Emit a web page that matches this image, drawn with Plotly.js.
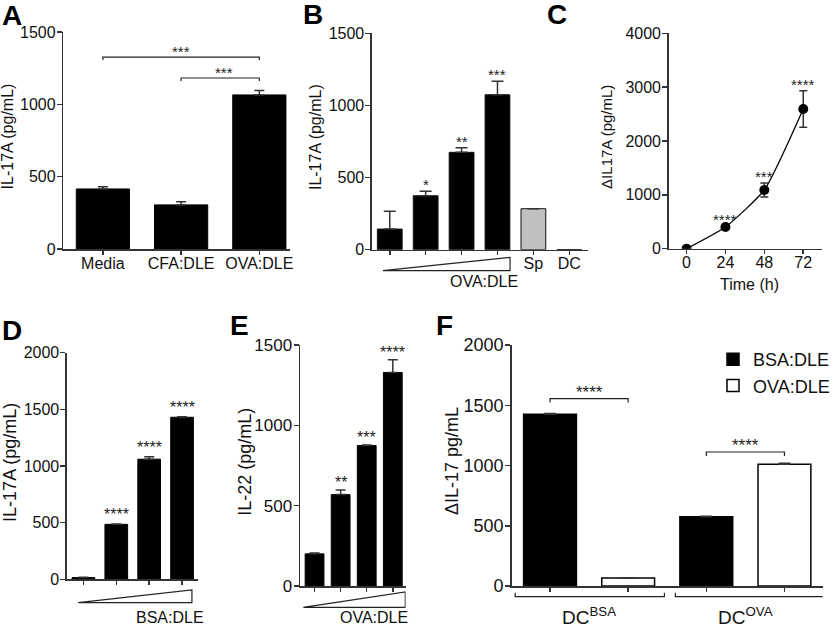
<!DOCTYPE html>
<html><head><meta charset="utf-8">
<script src="https://cdn.plot.ly/plotly-3.0.1.min.js"></script>
<style>html,body{margin:0;padding:0;background:#fff;} #chart{width:835px;height:628px;}</style>
</head><body><div id="chart"></div>
<script>
// ---------------- DATA ----------------
// Panel A
const catsA = ['Media', 'CFA:DLE', 'OVA:DLE'];
const valsA = [415, 305, 1065];
const errA  = [15, 22, 30];
const sigPairsA = [[0, 2], [1, 2]];
const sigHeightsA = [1327, 1182];
const sigTextA = ['***', '***'];
// Panel B
const catsB = ['OVA:DLE 1', 'OVA:DLE 2', 'OVA:DLE 3', 'OVA:DLE 4', 'Sp', 'DC'];
const labelledB = ['Sp', 'DC'];
const valsB = [143, 374, 675, 1074, 284, 0];
const errB  = [123, 31, 32, 93, null, null];
const sigB  = ['', '*', '**', '***', '', ''];
// Panel C
const timeC = [0, 24, 48, 72];
const valsC = [0, 403, 1090, 2595];
const errC  = [0, 20, 130, 340];
const sigC  = ['', '****', '***', '****'];
// Panel D
const catsD = ['BSA:DLE 1', 'BSA:DLE 2', 'BSA:DLE 3', 'BSA:DLE 4'];
const valsD = [15, 485, 1060, 1430];
const errD  = [3, 4, 22, 5];
const sigD  = ['', '****', '****', '****'];
// Panel E
const catsE = ['OVA:DLE 1', 'OVA:DLE 2', 'OVA:DLE 3', 'OVA:DLE 4'];
const valsE = [200, 569, 874, 1329];
const errE  = [5, 29, 4, 79];
const sigE  = ['', '**', '***', '****'];
// Panel F
const groupsF = ['DC<sup>BSA</sup>', 'DC<sup>OVA</sup>'];
const seriesF = ['BSA:DLE', 'OVA:DLE'];
const bsaF = [1425, 575];
const ovaF = [66, 1010];
const errBsaF = [6, 3];
const errOvaF = [3, 8];
const sigPairsF = [[0, 0], [1, 1]];
const sigHeightsF = [1555, 1112];
const sigTextF = ['****', '****'];

// ---------------- LAYOUT HELPERS ----------------
const W = 835, H = 628;
const FONT = 'Liberation Sans, Arial, Helvetica, sans-serif';
const px = x => x / W;
const py = y => 1 - y / H;
const AX = '#333';

const frame = {
  A: {l: 64, r: 293, t: 32, b: 249, xr: [-0.506, 2.39], yr: [0, 1500], dt: 500, fs: 16},
  B: {l: 376, r: 594, t: 33.3, b: 249.7, xr: [-0.496, 5.51], yr: [0, 1500], dt: 500, fs: 16},
  C: {l: 676, r: 831, t: 33.3, b: 248.7, xr: [-11, 83.6], yr: [0, 4000], dt: 1000, fs: 16},
  D: {l: 67.7, r: 200, t: 352.7, b: 579.3, xr: [-0.5, 3.48], yr: [0, 2000], dt: 500, fs: 16},
  E: {l: 303.3, r: 410, t: 345, b: 586, xr: [-0.557, 3.49], yr: [0, 1500], dt: 500, fs: 17},
  F: {l: 517.3, r: 831.7, t: 345, b: 586, xr: [-0.495, 1.495], yr: [0, 2000], dt: 500, fs: 18}
};
const keys = ['A', 'B', 'C', 'D', 'E', 'F'];
const unitPerPx = k => (frame[k].yr[1] - frame[k].yr[0]) / (frame[k].b - frame[k].t);

const layout = {
  width: W, height: H,
  margin: {l: 0, r: 0, t: 0, b: 0},
  paper_bgcolor: '#fff', plot_bgcolor: 'rgba(0,0,0,0)',
  font: {family: FONT, color: '#111', size: 16},
  barmode: 'overlay',
  showlegend: true,
  legend: {x: px(721), y: py(341), xanchor: 'left', yanchor: 'top',
           font: {size: 18, family: FONT, color: '#111'}, bgcolor: 'rgba(0,0,0,0)',
           tracegroupgap: 0, itemclick: false},
  shapes: [], annotations: []
};

keys.forEach((k, i) => {
  const f = frame[k];
  const sfx = i === 0 ? '' : String(i + 1);
  const common = {
    showgrid: false, zeroline: false, showline: true, linecolor: AX, linewidth: 1.5,
    ticks: 'outside', tickcolor: AX, tickwidth: 1.5, ticklen: 5, fixedrange: true,
    tickfont: {size: f.fs, family: FONT, color: '#111'}
  };
  layout['xaxis' + sfx] = Object.assign({}, common, {
    domain: [px(f.l), px(f.r)], range: f.xr, anchor: 'y' + sfx, ticklen: 4, ticklabelstandoff: -5
  });
  layout['yaxis' + sfx] = Object.assign({}, common, {
    domain: [py(f.b), py(f.t)], range: f.yr, anchor: 'x' + sfx, dtick: f.dt, tick0: 0,
    ticklabelstandoff: -2
  });
});

// x tick setup
const idx = arr => arr.map((_, i) => i);
Object.assign(layout.xaxis,  {tickmode: 'array', tickvals: idx(catsA), ticktext: catsA});
const labIdxB = labelledB.map(c => catsB.indexOf(c));
Object.assign(layout.xaxis2, {tickmode: 'array', tickvals: labIdxB, ticktext: labelledB,
  minor: {tickmode: 'array', tickvals: idx(catsB).filter(i => labIdxB.indexOf(i) < 0),
          ticks: 'outside', ticklen: 4, tickwidth: 1.5, tickcolor: AX, showgrid: false}});
Object.assign(layout.xaxis3, {tickmode: 'array', tickvals: timeC, ticktext: timeC.map(String)});
Object.assign(layout.xaxis4, {tickmode: 'array', tickvals: idx(catsD), showticklabels: false});
Object.assign(layout.xaxis5, {tickmode: 'array', tickvals: idx(catsE), showticklabels: false});
const xBsaF = groupsF.map((_, i) => i - 0.25);
const xOvaF = groupsF.map((_, i) => i + 0.25);
Object.assign(layout.xaxis6, {tickmode: 'array', tickvals: xBsaF.concat(xOvaF), showticklabels: false});

// ---------------- TRACES ----------------
const upErr = (arr, w) => ({type: 'data', symmetric: false, array: arr,
  arrayminus: arr.map(() => 0), color: '#333', thickness: 1.5, width: w, visible: true});

const traces = [];
traces.push({type: 'bar', name: 'A', x: idx(catsA), y: valsA, width: 0.68, xaxis: 'x', yaxis: 'y',
  marker: {color: '#000', line: {color: '#000', width: 1}}, error_y: upErr(errA, 5),
  showlegend: false, hoverinfo: 'skip'});
traces.push({type: 'bar', name: 'B', x: idx(catsB), y: valsB, width: 0.69, xaxis: 'x2', yaxis: 'y2',
  marker: {color: catsB.map(c => c === 'Sp' ? '#c0c0c0' : '#000'), line: {color: '#111', width: 1}},
  error_y: upErr(errB, 6), showlegend: false, hoverinfo: 'skip'});
traces.push({type: 'scatter', mode: 'lines+markers', name: 'C', x: timeC, y: valsC, xaxis: 'x3', yaxis: 'y3',
  line: {color: '#000', width: 1.3, shape: 'spline', smoothing: 0.5},
  marker: {color: '#000', size: 10},
  error_y: {type: 'data', array: errC, color: '#333', thickness: 1.5, width: 4},
  showlegend: false, hoverinfo: 'skip'});
traces.push({type: 'bar', name: 'D', x: idx(catsD), y: valsD, width: 0.69, xaxis: 'x4', yaxis: 'y4',
  marker: {color: '#000', line: {color: '#000', width: 1}}, error_y: upErr(errD, 5),
  showlegend: false, hoverinfo: 'skip'});
traces.push({type: 'bar', name: 'E', x: idx(catsE), y: valsE, width: 0.72, xaxis: 'x5', yaxis: 'y5',
  marker: {color: '#000', line: {color: '#000', width: 1}}, error_y: upErr(errE, 5),
  showlegend: false, hoverinfo: 'skip'});
traces.push({type: 'bar', name: seriesF[0], x: xBsaF, y: bsaF, width: 0.338, xaxis: 'x6', yaxis: 'y6',
  marker: {color: '#000', line: {color: '#000', width: 1.5}}, error_y: upErr(errBsaF, 6), hoverinfo: 'skip'});
traces.push({type: 'bar', name: seriesF[1], x: xOvaF, y: ovaF, width: 0.338, xaxis: 'x6', yaxis: 'y6',
  marker: {color: '#fff', line: {color: '#000', width: 1.5}}, error_y: upErr(errOvaF, 6), hoverinfo: 'skip'});

// ---------------- ANNOTATIONS & SHAPES ----------------
const ann = layout.annotations, shp = layout.shapes;
const lineSty = {color: '#222', width: 1.2};

function stars(xs, tops, labels, sfx, size, shift) {
  labels.forEach((s, i) => {
    if (!s) return;
    ann.push({xref: 'x' + sfx, yref: 'y' + sfx, x: xs[i], y: tops[i], text: s, showarrow: false,
      xanchor: 'center', yanchor: 'bottom', yshift: shift, font: {size: size, color: '#222'}});
  });
}
const tops = (v, e) => v.map((y, i) => y + (e[i] || 0));
stars(idx(catsB), tops(valsB, errB), sigB, '2', 15, -4);
stars(timeC, tops(valsC, errC), sigC, '3', 15, -4);
stars(idx(catsD), tops(valsD, errD), sigD, '4', 16, -1);
stars(idx(catsE), tops(valsE, errE), sigE, '5', 16, -3);

// significance brackets
function bracket(sfx, k, x0, x1, h, label, tickPx, size, labelX) {
  const d = tickPx * unitPerPx(k);
  shp.push({type: 'path', xref: 'x' + sfx, yref: 'y' + sfx,
    path: `M${x0},${h - d} L${x0},${h} L${x1},${h} L${x1},${h - d}`, line: lineSty});
  ann.push({xref: 'x' + sfx, yref: 'y' + sfx, x: labelX, y: h, text: label, showarrow: false,
    xanchor: 'center', yanchor: 'bottom', yshift: -5, font: {size: size, color: '#222'}});
}
sigPairsA.forEach((p, i) => bracket('', 'A', p[0], p[1], sigHeightsA[i], sigTextA[i], 3, 15,
  i === 0 ? (p[0] + p[1]) / 2 : (p[0] + p[1]) / 2 + 0.05));
sigPairsF.forEach((p, i) => bracket('6', 'F', xBsaF[p[0]], xOvaF[p[1]], sigHeightsF[i], sigTextF[i], 4, 17,
  (xBsaF[p[0]] + xOvaF[p[1]]) / 2));

// dose wedges
function wedge(sfx, x0, x1, yTopPx, yBotPx) {
  shp.push({type: 'path', xref: 'x' + sfx, yref: 'paper',
    path: `M${x0},${py(yBotPx)} L${x1},${py(yTopPx)} L${x1},${py(yBotPx)} Z`, line: lineSty});
}
wedge('2', -0.19, 3.35, 257.3, 270.7);
wedge('4', -0.16, 3.3, 590, 602.7);
wedge('5', -0.43, 3.48, 592, 607.3);
ann.push({xref: 'paper', yref: 'paper', x: px(489), y: py(281.5), text: 'OVA:DLE', showarrow: false,
  xanchor: 'center', yanchor: 'middle', font: {size: 16}});
ann.push({xref: 'paper', yref: 'paper', x: px(172), y: py(617.5), text: 'BSA:DLE', showarrow: false,
  xanchor: 'center', yanchor: 'middle', font: {size: 16}});
ann.push({xref: 'paper', yref: 'paper', x: px(378), y: py(617.5), text: 'OVA:DLE', showarrow: false,
  xanchor: 'center', yanchor: 'middle', font: {size: 16}});

// F group brackets and labels
const groupSpan = [[-0.473, 0.482], [0.552, 1.505]];
groupsF.forEach((g, i) => {
  const [a, b] = groupSpan[i];
  shp.push({type: 'path', xref: 'x6', yref: 'paper',
    path: `M${a},${py(592.7)} L${a},${py(596.7)} L${b},${py(596.7)} L${b},${py(592.7)}`, line: lineSty});
  ann.push({xref: 'x6', yref: 'paper', x: i, y: py(615.5), text: g, showarrow: false,
    xanchor: 'center', yanchor: 'middle', font: {size: 19}});
});

// axis titles
const ytitles = [
  ['IL-17A (pg/mL)', 8, 'A', 16],
  ['IL-17A (pg/mL)', 319, 'B', 16],
  ['ΔIL17A (pg/mL)', 612.5, 'C', 15],
  ['IL-17A (pg/mL)', 10, 'D', 18],
  ['IL-22 (pg/mL)', 247, 'E', 18],
  ['ΔIL-17 pg/mL', 456.5, 'F', 18]
];
ytitles.forEach(([t, x, k, s]) => {
  ann.push({xref: 'paper', yref: 'paper', x: px(x), y: py((frame[k].t + frame[k].b) / 2 - 4), text: t,
    textangle: -90, showarrow: false, xanchor: 'center', yanchor: 'middle', font: {size: s}});
});
ann.push({xref: 'paper', yref: 'paper', x: px(758), y: py(284), text: 'Time (h)', showarrow: false,
  xanchor: 'center', yanchor: 'middle', font: {size: 16}});

// panel letters
[['A', 0, -2], ['B', 304, -3], ['C', 551, -3], ['D', 0, 313], ['E', 230, 308], ['F', 439, 308]]
  .forEach(([t, x, y]) => ann.push({xref: 'paper', yref: 'paper', x: px(x), y: py(y), text: '<b>' + t + '</b>',
    showarrow: false, xanchor: 'left', yanchor: 'top', font: {size: 28, color: '#000'}}));

Plotly.newPlot('chart', traces, layout, {staticPlot: true, displayModeBar: false});
</script></body></html>
